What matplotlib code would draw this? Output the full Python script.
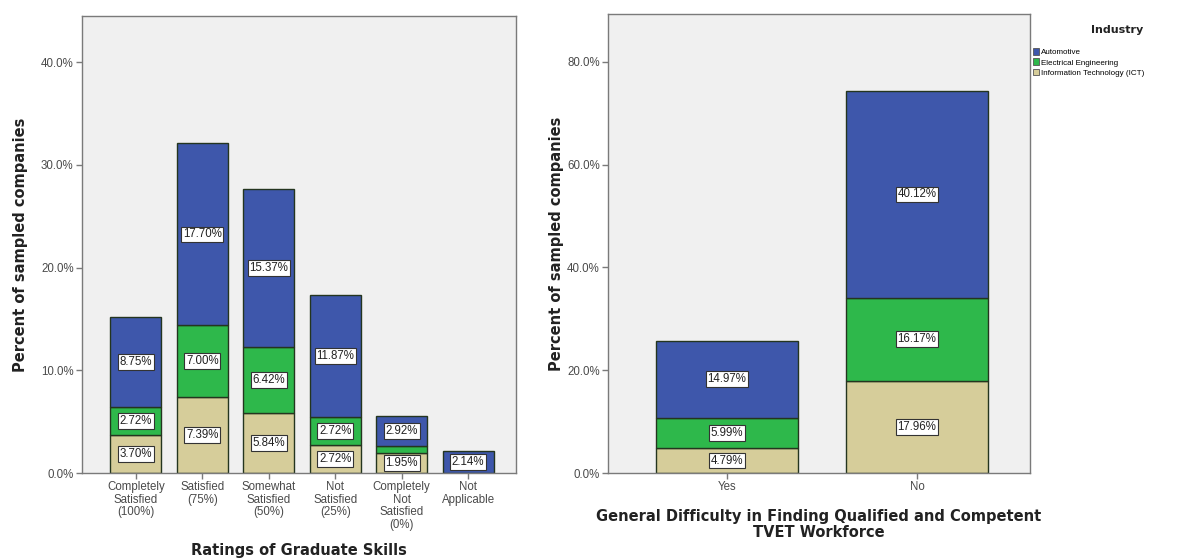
import matplotlib.pyplot as plt
from matplotlib.patches import Patch
from matplotlib.ticker import FuncFormatter

plt.rcParams['font.family'] = ['Liberation Sans', 'DejaVu Sans']

industries = ['Automotive', 'Electrical Engineering', 'Information Technology (ICT)']
colors = {'Automotive': '#3e57ab',
          'Electrical Engineering': '#2eb84b',
          'Information Technology (ICT)': '#d6cd9a'}

# ratings of graduate skills
ratings = ['Completely\nSatisfied\n(100%)', 'Satisfied\n(75%)', 'Somewhat\nSatisfied\n(50%)',
           'Not\nSatisfied\n(25%)', 'Completely\nNot\nSatisfied\n(0%)', 'Not\nApplicable']
rating_ict = [3.70, 7.39, 5.84, 2.72, 1.95, 0.0]
rating_ee = [2.72, 7.00, 6.42, 2.72, 0.68, 0.0]
rating_auto = [8.75, 17.70, 15.37, 11.87, 2.92, 2.14]
rating_labels_ee = [True, True, True, True, False, False]

# difficulty in finding TVET workforce
difficulty = ['Yes', 'No']
diff_ict = [4.79, 17.96]
diff_ee = [5.99, 16.17]
diff_auto = [14.97, 40.12]

edge = '#24351f'
axis_grey = '#7a7a7a'
title_font = dict(family='DejaVu Sans', fontsize=10.5, fontweight='bold', color='#222222')
pct = FuncFormatter(lambda v, p: f'{v:.1f}%')


def value_box(ax, x, y, val):
    ax.text(x, y, f'{val:.2f}%', ha='center', va='center', fontsize=8.3, color='#222222',
            bbox=dict(boxstyle='square,pad=0.15', fc='white', ec='#333333', lw=0.8))


def stacked(ax, cats, ict, ee, auto, width, show_ee=None):
    xs = range(len(cats))
    bottom = [0.0] * len(cats)
    for name, vals in [('Information Technology (ICT)', ict),
                       ('Electrical Engineering', ee),
                       ('Automotive', auto)]:
        ax.bar(xs, vals, width, bottom=bottom, color=colors[name], edgecolor=edge, linewidth=1.0)
        for i, v in enumerate(vals):
            if v <= 0:
                continue
            if name == 'Electrical Engineering' and show_ee is not None and not show_ee[i]:
                continue
            value_box(ax, i, bottom[i] + v / 2, v)
        bottom = [b + v for b, v in zip(bottom, vals)]


def style(ax):
    ax.set_facecolor('#f0f0f0')
    for s in ax.spines.values():
        s.set_color(axis_grey)
        s.set_linewidth(1.0)
    ax.tick_params(axis='both', colors=axis_grey, labelcolor='#4a4a4a', labelsize=8.3,
                   length=4, width=1.0, direction='out', pad=2)
    ax.yaxis.set_major_formatter(pct)
    ax.set_ylabel('Percent of sampled companies', **title_font)


fig = plt.figure(figsize=(12.02, 5.58), dpi=100)

ax1 = fig.add_axes([0.0682, 0.1523, 0.3611, 0.819])
stacked(ax1, ratings, rating_ict, rating_ee, rating_auto, 0.77, rating_labels_ee)
style(ax1)
ax1.set_xlim(-0.81, 5.72)
ax1.set_ylim(0, 44.5)
ax1.set_yticks([0, 10, 20, 30, 40])
ax1.set_xticks(range(len(ratings)))
ax1.set_xticklabels(ratings, linespacing=1.05)
ax1.set_xlabel('Ratings of Graduate Skills', labelpad=8.5, **title_font)
ax1.yaxis.labelpad = 9

ax2 = fig.add_axes([0.5058, 0.1523, 0.3511, 0.8226])
stacked(ax2, difficulty, diff_ict, diff_ee, diff_auto, 0.75)
style(ax2)
ax2.set_xlim(-0.626, 1.595)
ax2.set_ylim(0, 89.3)
ax2.set_yticks([0, 20, 40, 60, 80])
ax2.set_xticks(range(len(difficulty)))
ax2.set_xticklabels(difficulty)
ax2.set_xlabel('General Difficulty in Finding Qualified and Competent\nTVET Workforce',
               labelpad=11, linespacing=1.1, **title_font)
ax2.yaxis.labelpad = 2

# legend for the industry colours
fig.text(1117 / 1202, 1 - 30 / 558, 'Industry', ha='center', va='center',
         family='DejaVu Sans', fontsize=8, fontweight='bold', color='#222222')
handles = [Patch(facecolor=colors[n], edgecolor='#555555', lw=0.6) for n in industries]
fig.legend(handles, industries, loc='upper left', bbox_to_anchor=(1033 / 1202, 1 - 48 / 558),
           frameon=False, fontsize=5.8, handlelength=0.8, handleheight=0.9,
           handletextpad=0.2, labelspacing=0.28, borderaxespad=0, borderpad=0)

fig.savefig('out.png', dpi=100, facecolor='white')
